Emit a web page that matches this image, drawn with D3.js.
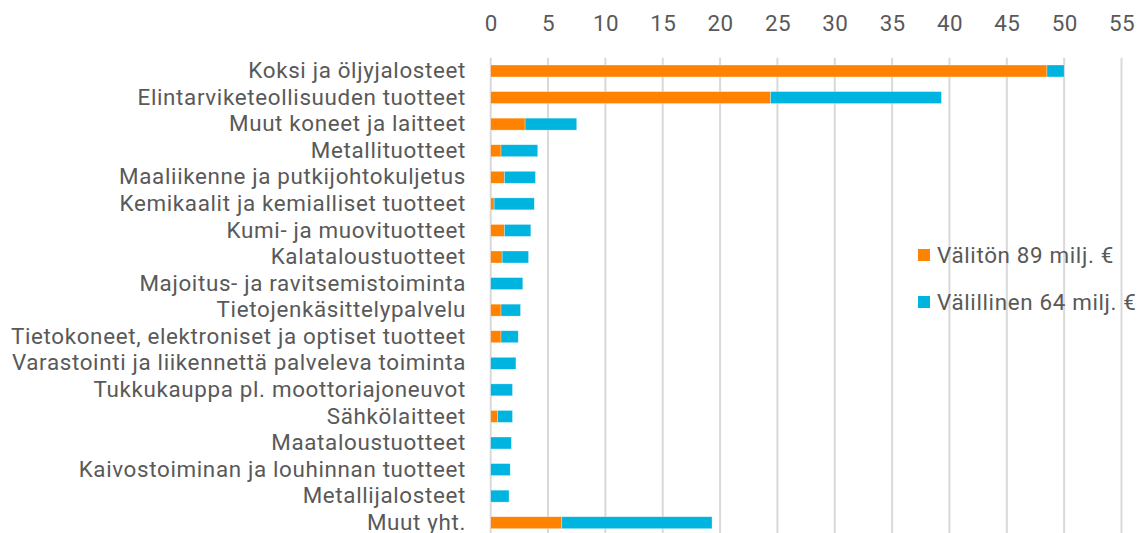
<!DOCTYPE html>
<html>
<head>
<meta charset="utf-8">
<script src="https://cdn.jsdelivr.net/npm/d3@7"></script>
<style>
  html, body { margin: 0; padding: 0; background: #fff; }
  svg text { font-family: Roboto, "Open Sans", sans-serif; fill: #595959; }
</style>
</head>
<body>
<svg id="chart" width="1141" height="533"></svg>
<script>
// Toimialat (ylhäältä alas)
const categories = [
  "Koksi ja öljyjalosteet",
  "Elintarviketeollisuuden tuotteet",
  "Muut koneet ja laitteet",
  "Metallituotteet",
  "Maaliikenne ja putkijohtokuljetus",
  "Kemikaalit ja kemialliset tuotteet",
  "Kumi- ja muovituotteet",
  "Kalataloustuotteet",
  "Majoitus- ja ravitsemistoiminta",
  "Tietojenkäsittelypalvelu",
  "Tietokoneet, elektroniset ja optiset tuotteet",
  "Varastointi ja liikennettä palveleva toiminta",
  "Tukkukauppa pl. moottoriajoneuvot",
  "Sähkölaitteet",
  "Maataloustuotteet",
  "Kaivostoiminan ja louhinnan tuotteet",
  "Metallijalosteet",
  "Muut yht."
];

// Välitön vaikutus, milj. €
const direct = [48.5, 24.4, 3.0, 0.9, 1.2, 0.3, 1.2, 1.0, 0, 0.9, 0.9, 0, 0, 0.6, 0, 0, 0, 6.2];
// Välillinen vaikutus, milj. €
const indirect = [1.5, 14.9, 4.5, 3.2, 2.7, 3.5, 2.3, 2.3, 2.8, 1.7, 1.5, 2.2, 1.9, 1.3, 1.8, 1.7, 1.6, 13.1];

const seriesNames = ["Välitön 89 milj. €", "Välillinen 64 milj. €"];
const seriesColors = ["#ff8300", "#00b4e0"];
const xTicks = [0, 5, 10, 15, 20, 25, 30, 35, 40, 45, 50, 55];

const svg = d3.select("#chart");
const plotLeft = 490.7, plotRight = 1121.5, plotTop = 57.7, plotBottom = 536;
const fontSize = 22.4;

const x = d3.scaleLinear().domain([0, 55]).range([plotLeft, plotRight]);
const y = d3.scaleBand().domain(categories).range([plotTop, plotBottom])
  .paddingInner(0.55).paddingOuter(0.275);

// Pystysuorat apuviivat
svg.append("g")
  .selectAll("line")
  .data(xTicks)
  .join("line")
  .attr("x1", d => x(d)).attr("x2", d => x(d))
  .attr("y1", plotTop).attr("y2", 533)
  .style("stroke", "#d9d9d9")
  .style("stroke-width", "2px");

// Akselin luvut ylhäällä
const xAxis = d3.axisTop(x).tickValues(xTicks).tickSize(0).tickPadding(0);
const gx = svg.append("g").attr("transform", "translate(0,23)").call(xAxis);
gx.select(".domain").remove();
gx.selectAll("text").attr("font-size", fontSize).style("fill", "#595959")
  .attr("dy", "0.36em").attr("font-family", "Roboto")
  .attr("letter-spacing", "0.4px");

// Luokkien nimet
const yAxis = d3.axisLeft(y).tickSize(0).tickPadding(0);
const gy = svg.append("g").attr("transform", "translate(466,0)").call(yAxis);
gy.select(".domain").remove();
gy.selectAll("text").attr("font-size", fontSize).style("fill", "#595959")
  .attr("font-family", "Roboto")
  .attr("letter-spacing", "0.65px");

// Pinotut palkit
const rows = categories.map((c, i) => ({ c, v: [direct[i], indirect[i]] }));
const stack = d3.stack().keys([0, 1]).value((d, k) => d.v[k]);
const layers = stack(rows);

svg.append("g")
  .selectAll("g")
  .data(layers)
  .join("g")
  .attr("fill", (d, i) => seriesColors[i])
  .selectAll("rect")
  .data(d => d)
  .join("rect")
  .attr("x", d => x(d[0]))
  .attr("y", d => y(d.data.c))
  .attr("width", d => Math.max(0, x(d[1]) - x(d[0])))
  .attr("height", y.bandwidth())
  .attr("stroke", "#fff")
  .attr("stroke-opacity", 0.5)
  .attr("stroke-width", 0.6);

// Selite
const legend = svg.append("g").attr("transform", "translate(918,255)");
seriesNames.forEach((name, i) => {
  const g = legend.append("g").attr("transform", `translate(0,${i * 47})`);
  g.append("rect").attr("x", 0).attr("y", -6).attr("width", 12).attr("height", 12)
    .attr("fill", seriesColors[i]);
  g.append("text").attr("x", 19).attr("y", 0).attr("dy", "0.35em")
    .attr("font-size", fontSize).attr("letter-spacing", "0.65px").text(name);
});
</script>
</body>
</html>
